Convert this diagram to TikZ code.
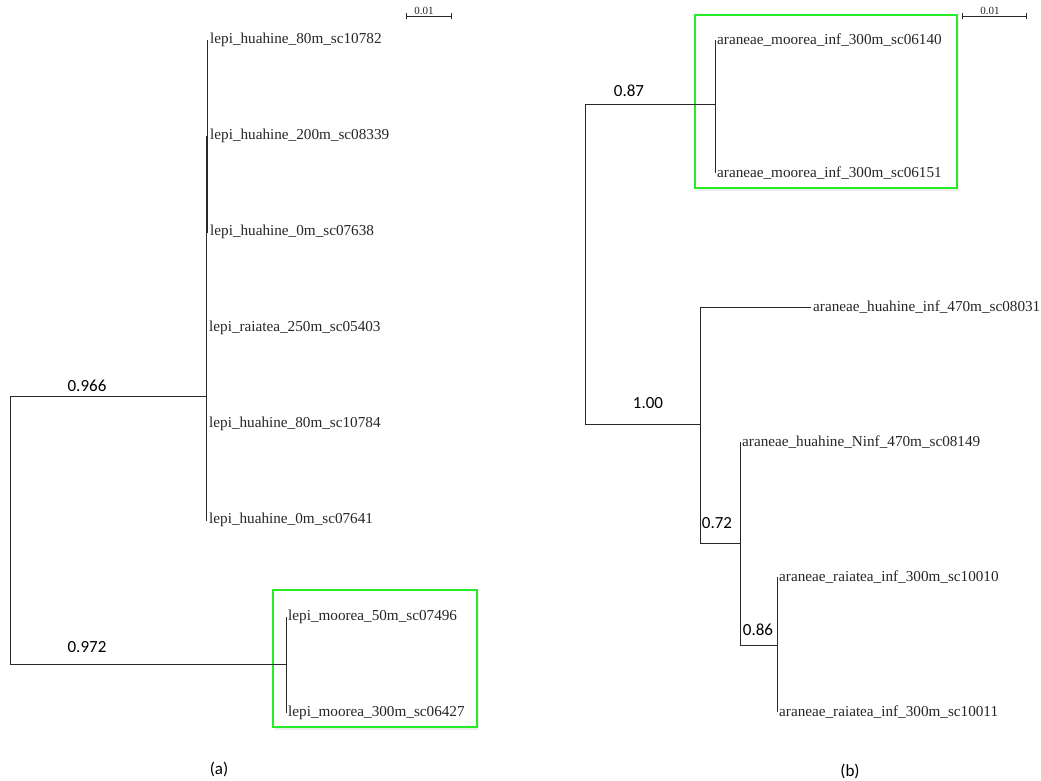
\documentclass[tikz,border=0pt]{standalone}
\usepackage{fontspec}
\setmainfont{Liberation Serif}
\newfontfamily\supfont{Carlito}
\usetikzlibrary{shadows,arrows.meta}
\definecolor{boxgreen}{RGB}{40,235,40}
\definecolor{treeline}{RGB}{40,40,40}

\begin{document}
\begin{tikzpicture}[x=1pt, y=-1pt,
	leaf/.style={anchor=west, inner xsep=2pt, inner ysep=0pt, font=\fontsize{15.2}{16}\selectfont, text=black!85},
	support/.style={inner sep=0pt, font=\supfont\fontsize{17}{18}\selectfont},
	branch/.style={draw=treeline, line width=1pt},
	cladebox/.style={draw=boxgreen, line width=1.3pt, fill=white, drop shadow={opacity=0.15, shadow xshift=1.5pt, shadow yshift=-2.5pt}},
	scalebar/.style={draw=treeline, line width=0.7pt, {Bar[width=6pt]-Bar[width=6pt]}},
	scalelabel/.style={inner sep=0pt, font=\fontsize{11}{12}\selectfont, text=black!85},
	caption/.style={font=\supfont\fontsize{17}{18}\selectfont}]
	\useasboundingbox (0,0) rectangle (1041,780);
	% highlighted clades
	\draw[cladebox] (273,590) rectangle (477,727);
	\draw[cladebox] (695,15) rectangle (957,188);

	% (a) lepi tree
	\coordinate (r1) at (10,530);
	\coordinate (a1) at (206,396);
	\coordinate (a2) at (207,136);
	\coordinate (m1) at (286,664);
	\node[leaf] (l1) at (208,40) {lepi\_huahine\_80m\_sc10782};
	\node[leaf] (l2) at (208,136) {lepi\_huahine\_200m\_sc08339};
	\node[leaf] (l3) at (208,232) {lepi\_huahine\_0m\_sc07638};
	\node[leaf] (l4) at (207,328) {lepi\_raiatea\_250m\_sc05403};
	\node[leaf] (l5) at (207,424) {lepi\_huahine\_80m\_sc10784};
	\node[leaf] (l6) at (207,520) {lepi\_huahine\_0m\_sc07641};
	\node[leaf] (l7) at (286,617) {lepi\_moorea\_50m\_sc07496};
	\node[leaf] (l8) at (286,713) {lepi\_moorea\_300m\_sc06427};
	\draw[branch] (r1) |- (a1);
	\draw[branch] (r1) |- (m1);
	\draw[branch] (a1) |- (a2);
	\draw[branch] (a2) |- (l1.west);
	\draw[branch] (a2) |- (l2.west);
	\draw[branch] (a2) |- (l3.west);
	\draw[branch] (a1) |- (l4.west);
	\draw[branch] (a1) |- (l5.west);
	\draw[branch] (a1) |- (l6.west);
	\draw[branch] (m1) |- (l7.west);
	\draw[branch] (m1) |- (l8.west);
	\node[support] (s966) at (87,386) {0.966};
	\node[support] (s972) at (87,647) {0.972};

	% (b) araneae tree
	\coordinate (r2) at (585,264);
	\coordinate (p2) at (715,104);
	\coordinate (q2) at (700,424);
	\coordinate (u2) at (740,543);
	\coordinate (t2) at (777,645);
	\node[leaf] (k1) at (715,40) {araneae\_moorea\_inf\_300m\_sc06140};
	\node[leaf] (k2) at (715,173) {araneae\_moorea\_inf\_300m\_sc06151};
	\node[leaf] (k3) at (811,307) {araneae\_huahine\_inf\_470m\_sc08031};
	\node[leaf] (k4) at (740,442) {araneae\_huahine\_Ninf\_470m\_sc08149};
	\node[leaf] (k5) at (777,577) {araneae\_raiatea\_inf\_300m\_sc10010};
	\node[leaf] (k6) at (777,712) {araneae\_raiatea\_inf\_300m\_sc10011};
	\draw[branch] (r2) |- (p2);
	\draw[branch] (r2) |- (q2);
	\draw[branch] (p2) |- (k1.west);
	\draw[branch] (p2) |- (k2.west);
	\draw[branch] (q2) |- (k3.west);
	\draw[branch] (q2) |- (u2);
	\draw[branch] (u2) |- (k4.west);
	\draw[branch] (u2) |- (t2);
	\draw[branch] (t2) |- (k5.west);
	\draw[branch] (t2) |- (k6.west);
	\node[support] (s87) at (629,91) {0.87};
	\node[support] (s100) at (648,403) {1.00};
	\node[support] (s72) at (717,523) {0.72};
	\node[support] (s86) at (758,630) {0.86};

	% scale bars
	\coordinate (ba1) at (406,16);
	\coordinate (ba2) at (452,16);
	\coordinate (bb1) at (962,16);
	\coordinate (bb2) at (1027,16);
	\draw[scalebar] (ba1) -- (ba2);
	\draw[scalebar] (bb1) -- (bb2);
	\node[scalelabel] (sla) at (424,11) {0.01};
	\node[scalelabel] (slb) at (990,11) {0.01};

	% captions
	\node[caption] (capa) at (219,769) {(a)};
	\node[caption] (capb) at (850,771) {(b)};
\end{tikzpicture}
\end{document}
